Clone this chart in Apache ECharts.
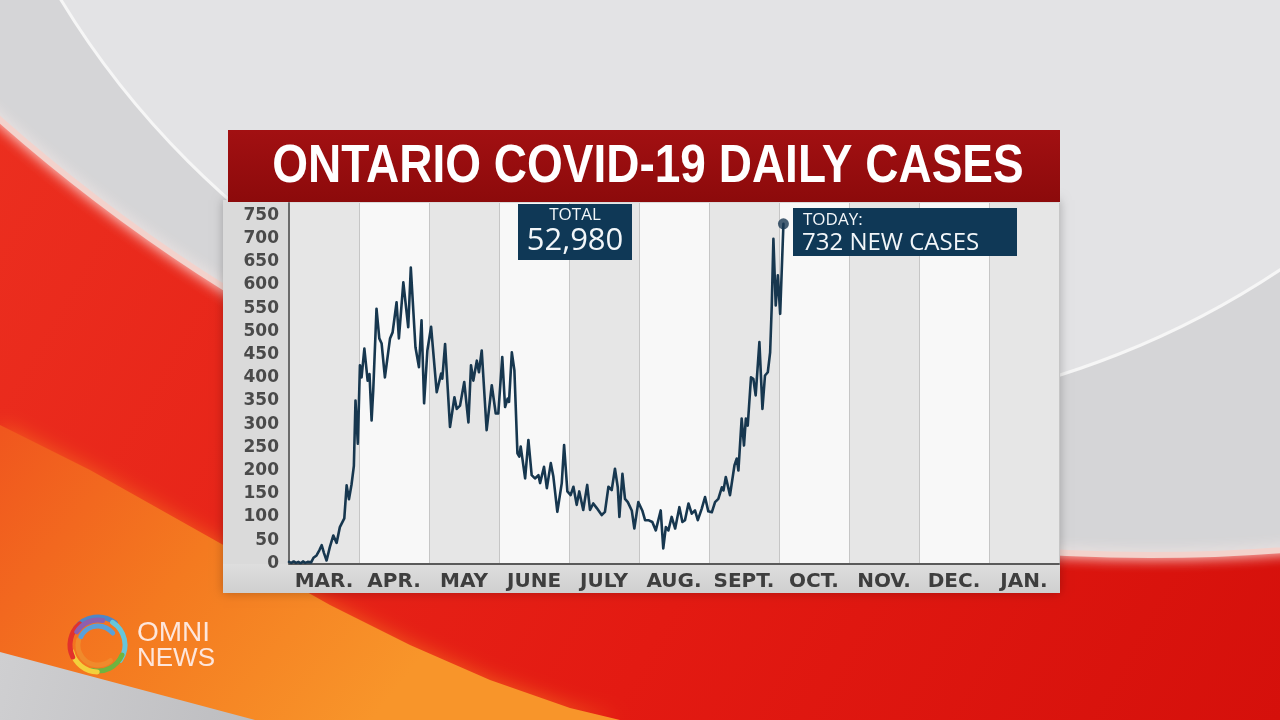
<!DOCTYPE html>
<html>
<head>
<meta charset="utf-8">
<script src="https://cdn.jsdelivr.net/npm/echarts@6/dist/echarts.min.js"></script>
<style>
html,body{margin:0;padding:0;background:#d6d6d8;overflow:hidden;}
#c{width:1280px;height:720px;}
</style>
</head>
<body>
<div id="c"></div>
<script>
// ---- data ----
const titleText = 'ONTARIO COVID-19 DAILY CASES';
const months = ['MAR.', 'APR.', 'MAY', 'JUNE', 'JULY', 'AUG.', 'SEPT.', 'OCT.', 'NOV.', 'DEC.', 'JAN.'];
const yMin = 0, yMaxLabel = 750, yStep = 50;
// days since March 1 (one month column = 30 days)
const dayOffsets = [0,1,2,3,4,5,6,7,8,9.5,
  10.5,11.8,13,14,15,16.1,17.5,19,20.4,21.8,
  23.7,24.7,25.7,26.8,27.8,28.5,29.5,30.4,31.1,32.3,
  33.7,34.5,35.4,36.1,37.5,38.7,39.7,41.1,43.3,44.4,
  46.1,47.1,49,51.1,52.2,53,54.2,55.7,56.8,57.9,
  59.3,60.9,63.3,65.2,65.7,66.9,69,70.9,71.9,73.3,
  75.1,76.9,78,79,80.5,81.4,82.6,84.7,86.9,88.6,
  89.7,91.4,92.6,93.7,94.3,95.5,96.6,97.9,98.7,99.3,
  101.2,102.6,104,105.4,106.9,107.6,109.3,110.5,112.2,113.3,
  114,115,116.9,117.9,119.3,120.7,121.9,123.3,124.4,126.1,
  127.8,129,130.4,131.9,134,135.4,136.9,138.3,139.7,140.9,
  141.6,142.9,144,145.2,146.9,148,149.7,151.4,152.6,154,
  155.7,157.2,159.3,160.4,161.5,162.6,164,165.5,167.3,168.6,
  169.7,171.2,172.6,174,175.2,176.9,178.3,179.7,181.2,182.6,
  184,185.5,186.2,187.2,189,190.9,191.9,192.6,194,195,
  195.8,196.6,198,199,200,201.6,202.9,204,205.2,206.2,
  206.9,207.6,208.6,209.5,210.5,211.9];
const dailyCases = [3,1,4,1,3,0,4,1,3,2,
  12,17,28,39,22,6,35,60,44,78,
  97,168,138,170,210,351,258,427,401,463,
  394,408,308,373,549,485,474,401,485,498,
  563,485,606,509,638,638,466,423,524,345,
  459,510,369,409,398,473,294,358,333,340,
  391,304,427,394,437,412,459,287,384,323,
  323,445,337,355,348,455,416,237,230,252,
  183,266,190,183,190,173,208,162,216,187,
  190,111,173,255,155,147,165,126,155,115,
  169,115,129,119,104,111,165,158,204,164,
  100,193,139,132,114,75,132,114,93,93,
  89,71,114,32,78,71,100,75,121,89,
  93,129,107,114,93,118,143,112,110,132,
  139,164,157,186,147,211,226,200,312,254,
  312,297,401,398,362,477,333,405,412,455,
  556,700,556,621,538,732];
const totalLabel = 'TOTAL';
const totalValue = '52,980';
const todayLabel = 'TODAY:';
const todayValue = '732 NEW CASES';
const logoTop = 'OMNI';
const logoBottom = 'NEWS';

// ---- build ----
const daysPerMonth = 30;
const linePoints = dayOffsets.map((d, i) => [d, dailyCases[i]]);
const lastPoint = linePoints[linePoints.length - 1];

const chart = echarts.init(document.getElementById('c'), null, {renderer: 'canvas', width: 1280, height: 720});

const bg = [
  {type: 'rect', z: -30, shape: {x: 0, y: 0, width: 1280, height: 720},
   style: {fill: new echarts.graphic.LinearGradient(0, 0, 1, 1, [
     {offset: 0, color: '#ec3020'}, {offset: 0.6, color: '#e31a12'}, {offset: 1, color: '#d5100b'}])}},
  {type: 'polygon', z: -29, shape: {points: [[0,425],[90,470],[170,515],[250,560],[330,605],[410,645],[490,680],[570,708],[620,720],[0,720]]},
   style: {fill: new echarts.graphic.LinearGradient(0, 0, 0.6, 1, [
     {offset: 0, color: '#f0561e'}, {offset: 0.5, color: '#f47a20'}, {offset: 1, color: '#f8952a'}]),
     shadowBlur: 20, shadowColor: 'rgba(245,110,30,0.8)'}},
  {type: 'polygon', z: -28, shape: {points: [[0,652],[255,720],[0,720]]},
   style: {fill: new echarts.graphic.LinearGradient(0, 0, 1, 1, [
     {offset: 0, color: '#cfcfd1'}, {offset: 1, color: '#bdbdc0'}])}},
  {type: 'circle', z: -27, shape: {cx: 1150, cy: -1182, r: 1737},
   style: {fill: '#d5d5d7', stroke: '#f3d2cc', lineWidth: 6, shadowBlur: 14, shadowColor: 'rgba(255,240,236,0.9)'}},
  {type: 'circle', z: -26, shape: {cx: 800, cy: -450, r: 865},
   style: {fill: '#e3e3e5', stroke: '#f6f6f6', lineWidth: 3}}
];

const panel = [
  {type: 'rect', z: -20, shape: {x: 223, y: 200, width: 837, height: 393},
   style: {fill: '#dadada', shadowBlur: 10, shadowColor: 'rgba(0,0,0,0.25)'}},
  {type: 'rect', z: -19, shape: {x: 223, y: 564, width: 837, height: 29},
   style: {fill: new echarts.graphic.LinearGradient(0, 0, 0, 1, [
     {offset: 0, color: '#dedede'}, {offset: 1, color: '#cfcfcf'}])}},
  {type: 'rect', z: -18, shape: {x: 228, y: 130, width: 832, height: 72},
   style: {fill: new echarts.graphic.LinearGradient(0, 0, 0, 1, [
     {offset: 0, color: '#a21012'}, {offset: 1, color: '#8c0a0b'}])}},
  {type: 'text', z: 50, x: 648, y: 167, scaleY: 1.15,
   style: {text: titleText, x: 0, y: 0, align: 'center', verticalAlign: 'middle',
   fill: '#ffffff', fontSize: 46, fontWeight: 'bold', fontFamily: '"Liberation Sans", Arial, sans-serif'}}
];

const annotations = [
  {type: 'rect', z: 60, shape: {x: 518, y: 204, width: 114, height: 56}, style: {fill: '#0f3856'}},
  {type: 'text', z: 61, style: {text: totalLabel, x: 575, y: 215, align: 'center', verticalAlign: 'middle',
   fill: '#f2f6f9', fontSize: 17, fontFamily: '"Open Sans", sans-serif'}},
  {type: 'text', z: 61, style: {text: totalValue, x: 575, y: 241, align: 'center', verticalAlign: 'middle',
   fill: '#f2f6f9', fontSize: 31, fontFamily: '"Open Sans", sans-serif'}},
  {type: 'rect', z: 60, shape: {x: 793, y: 208, width: 224, height: 48}, style: {fill: '#0f3856'}},
  {type: 'text', z: 61, style: {text: todayLabel, x: 803, y: 220, align: 'left', verticalAlign: 'middle',
   fill: '#f2f6f9', fontSize: 17, fontFamily: '"Open Sans", sans-serif'}},
  {type: 'text', z: 61, style: {text: todayValue, x: 802, y: 243, align: 'left', verticalAlign: 'middle',
   fill: '#f2f6f9', fontSize: 24, fontFamily: '"Open Sans", sans-serif'}}
];

const logoCx = 98, logoCy = 645;
const swirl = [
  ['#4f86c6', 28, -2.5, -0.9],
  ['#66c6da', 27, -1.0, 0.6],
  ['#6fb43f', 26, 0.4, 1.8],
  ['#f3d03c', 27, 1.6, 2.9],
  ['#e2312b', 28, 2.7, 4.0],
  ['#8d5fae', 25, 3.7, 4.9],
  ['#f08a2c', 20, 0.9, 3.4],
  ['#5aa0d8', 19, 3.6, 5.6]
];
const logo = swirl.map(s => ({type: 'arc', z: 40,
  shape: {cx: logoCx, cy: logoCy, r: s[1], startAngle: s[2], endAngle: s[3], clockwise: true},
  style: {stroke: s[0], lineWidth: 5, fill: null, lineCap: 'round'}}));
logo.push({type: 'text', z: 40, style: {text: logoTop, x: 137, y: 633, align: 'left', verticalAlign: 'middle',
  fill: '#fde6dc', fontSize: 28, fontFamily: '"Liberation Sans", Arial, sans-serif'}});
logo.push({type: 'text', z: 40, style: {text: logoBottom, x: 137, y: 659, align: 'left', verticalAlign: 'middle',
  fill: '#fde6dc', fontSize: 26, fontFamily: '"Liberation Sans", Arial, sans-serif'}});

const option = {
  animation: false,
  backgroundColor: 'transparent',
  grid: {left: 289, right: 221, top: 203, bottom: 156.7, containLabel: false},
  xAxis: [
    {type: 'category', data: months, boundaryGap: true, position: 'bottom',
     axisLine: {show: true, lineStyle: {color: '#5a5a5a', width: 2}},
     axisTick: {show: false},
     axisLabel: {interval: 0, margin: 8, color: '#3e3e3e', fontSize: 20, fontWeight: 'bold',
       fontFamily: '"DejaVu Sans", sans-serif'},
     splitLine: {show: true, lineStyle: {color: '#c6c6c6', width: 1}},
     splitArea: {show: true, areaStyle: {color: ['#e6e6e6', '#f8f8f8']}}},
    {type: 'value', min: 0, max: months.length * daysPerMonth, show: false}
  ],
  yAxis: {type: 'value', min: yMin, max: 777, interval: yStep,
    axisLine: {show: true, lineStyle: {color: '#6a6a6a', width: 2}},
    axisTick: {show: false},
    splitLine: {show: false},
    axisLabel: {margin: 10, color: '#4a4a4a', fontSize: 17, fontWeight: 'bold',
      fontFamily: '"DejaVu Sans", sans-serif',
      formatter: v => (v % yStep === 0 && v <= yMaxLabel) ? String(v) : ''}},
  series: [
    {type: 'line', xAxisIndex: 1, data: linePoints, symbol: 'none', z: 5,
     lineStyle: {color: '#17374f', width: 2.6, join: 'round', cap: 'round'}},
    {type: 'scatter', xAxisIndex: 1, data: [lastPoint], symbolSize: 11, z: 6,
     itemStyle: {color: '#1a3853'}}
  ],
  graphic: {elements: [...bg, ...panel, ...annotations, ...logo]}
};
chart.setOption(option);
</script>
</body>
</html>
